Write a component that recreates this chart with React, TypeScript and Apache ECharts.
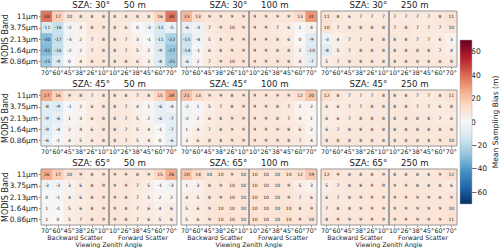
import React, { useEffect, useRef } from 'react';
import * as echarts from 'echarts';

const BANDS = ['11µm', '3.75µm', '2.13µm', '1.64µm', '0.86µm'];
const VZA_LABELS = ['70°', '60°', '45°', '38°', '26°', '10°', '10°', '26°', '38°', '45°', '60°', '70°'];
const SZA_LABELS = ['30°', '45°', '65°'];
const RES_LABELS = ['50 m', '100 m', '250 m'];
const COLORBAR_TICKS = [-60, -40, -20, 0, 20, 40, 60];

// rows: bands (11, 3.75, 2.13, 1.64, 0.86); cols: VZA backward 70..10, forward 10..70
const SZA30_50M = [
  [38, 17, 10, 8, 8, 8, 8, 8, 8, 8, 16, 38],
  [-11, -16, -2, 3, 8, 9, 8, 6, 0, -3, -11, -5],
  [-30, -17, -3, 2, 7, 8, 8, 7, 3, -1, -11, -22],
  [-31, -16, -2, 2, 7, 8, 8, 7, 5, 2, -9, -27],
  [-25, -9, 0, 4, 8, 9, 8, 8, 6, 3, -8, -25],
];
const SZA30_100M = [
  [23, 13, 9, 9, 9, 9, 9, 9, 9, 9, 13, 31],
  [-6, -3, 7, 9, 10, 9, 9, 9, 7, 6, 1, 4],
  [-15, -4, 5, 8, 9, 9, 9, 9, 8, 6, 0, -9],
  [-14, -1, 6, 8, 9, 9, 9, 9, 8, 8, 2, -10],
  [-6, 2, 7, 9, 10, 9, 9, 9, 9, 8, 4, -7],
];
const SZA30_250M = [
  [11, 8, 6, 7, 7, 7, 7, 7, 7, 7, 8, 11],
  [10, 7, 8, 8, 8, 8, 7, 8, 7, 7, 7, 10],
  [-3, 4, 7, 7, 8, 8, 8, 8, 7, 7, 6, 3],
  [-8, 5, 7, 8, 8, 8, 8, 8, 8, 8, 7, 4],
  [5, 7, 8, 8, 8, 8, 8, 8, 8, 8, 8, 8],
];
const SZA45_50M = [
  [27, 16, 9, 8, 7, 8, 8, 8, 7, 8, 15, 28],
  [-8, -9, -1, 2, 6, 8, 8, 7, 4, 1, -6, -4],
  [-9, -6, 1, 3, 6, 8, 8, 7, 5, 2, -6, -7],
  [-9, -4, 2, 4, 6, 8, 8, 7, 5, 4, -1, -7],
  [-6, -1, 4, 5, 6, 8, 8, 7, 5, 4, 0, -6],
];
const SZA45_100M = [
  [21, 13, 9, 9, 8, 9, 9, 9, 9, 9, 12, 20],
  [-2, 1, 5, 7, 8, 9, 9, 9, 8, 7, 2, 2],
  [-2, 2, 6, 8, 9, 9, 9, 9, 8, 7, 4, 1],
  [1, 4, 7, 8, 9, 9, 9, 9, 9, 8, 6, 2],
  [3, 6, 8, 8, 9, 9, 9, 9, 9, 8, 7, 4],
];
const SZA45_250M = [
  [12, 8, 7, 7, 7, 8, 8, 8, 7, 7, 8, 11],
  [6, 6, 7, 7, 8, 8, 8, 8, 7, 7, 6, 8],
  [6, 6, 7, 8, 8, 8, 8, 8, 8, 8, 7, 6],
  [6, 7, 8, 8, 8, 8, 8, 8, 8, 8, 8, 8],
  [8, 8, 8, 8, 8, 8, 8, 8, 8, 8, 9, 10],
];
const SZA65_50M = [
  [26, 17, 10, 9, 8, 9, 9, 9, 8, 9, 15, 26],
  [-3, -3, 3, 6, 8, 9, 9, 9, 7, 5, -1, -3],
  [0, -1, 4, 6, 8, 9, 9, 8, 7, 5, 2, 2],
  [1, -1, 5, 6, 8, 9, 9, 8, 7, 6, 4, 6],
  [1, 0, 5, 7, 8, 9, 9, 8, 7, 6, 5, 6],
];
const SZA65_100M = [
  [20, 14, 10, 10, 9, 10, 10, 10, 10, 10, 12, 19],
  [1, 3, 8, 9, 10, 10, 10, 10, 10, 9, 5, 3],
  [4, 5, 8, 9, 10, 10, 10, 10, 10, 9, 7, 6],
  [5, 6, 9, 10, 10, 10, 10, 10, 10, 10, 8, 9],
  [5, 6, 9, 10, 10, 10, 10, 10, 10, 10, 9, 10],
];
const SZA65_250M = [
  [12, 9, 8, 8, 8, 9, 8, 8, 8, 8, 9, 12],
  [5, 7, 8, 8, 9, 9, 9, 9, 8, 8, 8, 6],
  [6, 7, 8, 9, 9, 9, 9, 9, 9, 9, 8, 9],
  [7, 8, 8, 9, 9, 9, 9, 9, 9, 9, 9, 10],
  [8, 9, 9, 9, 9, 9, 9, 9, 9, 9, 9, 11],
];

const PANELS = [
  [SZA30_50M, SZA30_100M, SZA30_250M],
  [SZA45_50M, SZA45_100M, SZA45_250M],
  [SZA65_50M, SZA65_100M, SZA65_250M],
];

const RDBU_R = ['#053061', '#2166ac', '#4393c3', '#92c5de', '#d1e5f0', '#f7f7f7', '#fddbc7', '#f4a582', '#d6604d', '#b2182b', '#67001f'];

const FONT = 'DejaVu Sans';
const PANEL_LEFT = [41, 181, 321];
const PANEL_TOP = [11, 90, 169];
const PANEL_W = 136;
const PANEL_H = 56;
const CB = { left: 460, top: 40, width: 12, height: 164 };

export default function App() {
  const ref = useRef<HTMLDivElement>(null);
  useEffect(() => {
    if (!ref.current) return;
    document.body.style.margin = '0';
    const chart = echarts.init(ref.current, undefined, { renderer: 'svg' });
    const grids: any[] = [];
    const xAxes: any[] = [];
    const yAxes: any[] = [];
    const series: any[] = [];
    const graphics: any[] = [];
    const xKeys = VZA_LABELS.map((_, i) => 'c' + i);

    for (let r = 0; r < 3; r++) {
      for (let c = 0; c < 3; c++) {
        const gi = r * 3 + c;
        const L = PANEL_LEFT[c];
        const T = PANEL_TOP[r];
        grids.push({ left: L, top: T, width: PANEL_W, height: PANEL_H, containLabel: false });
        xAxes.push({
          gridIndex: gi,
          type: 'category',
          data: xKeys,
          axisLine: { show: false },
          axisTick: { show: true, length: 2, alignWithLabel: true, lineStyle: { color: '#333', width: 0.6 } },
          axisLabel: {
            show: true,
            interval: 0,
            margin: 2.5,
            fontSize: 6.3,
            color: '#222',
            fontFamily: FONT,
            formatter: (_v: string, idx: number) => VZA_LABELS[idx],
          },
          splitLine: { show: false },
        });
        yAxes.push({
          gridIndex: gi,
          type: 'category',
          data: BANDS,
          inverse: true,
          axisLine: { show: false },
          axisTick: { show: c === 0, length: 2, alignWithLabel: true, lineStyle: { color: '#333', width: 0.6 } },
          axisLabel: { show: c === 0, margin: 3, fontSize: 7.4, color: '#222', fontFamily: FONT },
          splitLine: { show: false },
        });
        const data: any[] = [];
        PANELS[r][c].forEach((row, yi) => row.forEach((v, xi) => data.push([xi, yi, v])));
        series.push({
          type: 'heatmap',
          xAxisIndex: gi,
          yAxisIndex: gi,
          data,
          itemStyle: { borderWidth: 0 },
          label: {
            show: true,
            fontSize: 4.5,
            color: '#222',
            fontFamily: FONT,
            formatter: (p: any) => String(p.value[2]),
          },
          emphasis: { disabled: true },
        });
        graphics.push({
          type: 'rect',
          shape: { x: L, y: T, width: PANEL_W, height: PANEL_H },
          style: { fill: 'none', stroke: '#999', lineWidth: 1 },
          z: 100,
        });
        graphics.push({
          type: 'line',
          shape: { x1: L + PANEL_W / 2, y1: T, x2: L + PANEL_W / 2, y2: T + PANEL_H },
          style: { stroke: '#777', lineWidth: 1.3 },
          z: 100,
        });
        graphics.push({
          type: 'text',
          x: L + PANEL_W / 2,
          y: T - 6,
          style: {
            text: 'SZA: ' + SZA_LABELS[r] + '     ' + RES_LABELS[c],
            align: 'center',
            verticalAlign: 'middle',
            fontSize: 8.6,
            fontFamily: FONT,
            fill: '#222',
          },
        });
        if (c === 0) {
          graphics.push({
            type: 'text',
            x: 5,
            y: T + PANEL_H / 2,
            rotation: Math.PI / 2,
            style: {
              text: 'MODIS Band',
              align: 'center',
              verticalAlign: 'middle',
              fontSize: 8,
              fontFamily: FONT,
              fill: '#222',
            },
          });
        }
        if (r === 2) {
          graphics.push({
            type: 'text',
            x: L + PANEL_W / 4,
            y: T + PANEL_H + 12,
            style: { text: 'Backward Scatter', align: 'center', verticalAlign: 'middle', fontSize: 6.3, fontFamily: FONT, fill: '#222' },
          });
          graphics.push({
            type: 'text',
            x: L + (PANEL_W * 3) / 4,
            y: T + PANEL_H + 12,
            style: { text: 'Forward Scatter', align: 'center', verticalAlign: 'middle', fontSize: 6.3, fontFamily: FONT, fill: '#222' },
          });
          graphics.push({
            type: 'text',
            x: L + PANEL_W / 2,
            y: T + PANEL_H + 19,
            style: { text: 'Viewing Zenith Angle', align: 'center', verticalAlign: 'middle', fontSize: 6.3, fontFamily: FONT, fill: '#222' },
          });
        }
      }
    }

    const cbIndex = 9;
    grids.push({ left: CB.left, top: CB.top, width: CB.width, height: CB.height });
    xAxes.push({ gridIndex: cbIndex, type: 'value', show: false, min: 0, max: 1 });
    yAxes.push({
      gridIndex: cbIndex,
      type: 'value',
      position: 'right',
      min: -70,
      max: 70,
      axisLine: { show: false },
      splitLine: { show: false },
      axisTick: { show: true, length: 2.5, customValues: COLORBAR_TICKS, lineStyle: { color: '#333', width: 0.6 } },
      axisLabel: {
        show: true,
        customValues: COLORBAR_TICKS,
        margin: 3,
        fontSize: 7.6,
        color: '#222',
        fontFamily: FONT,
        formatter: (v: number) => String(v).replace('-', '\u2212'),
      },
      name: 'Mean Sampling Bias (m)',
      nameLocation: 'middle',
      nameRotate: 90,
      nameGap: 22,
      nameTextStyle: { fontSize: 7.6, color: '#222', fontFamily: FONT },
    });
    graphics.push({
      type: 'rect',
      shape: { x: CB.left, y: CB.top, width: CB.width, height: CB.height },
      style: {
        fill: new echarts.graphic.LinearGradient(
          0, 0, 0, 1,
          RDBU_R.slice().reverse().map((col, i) => ({ offset: i / (RDBU_R.length - 1), color: col }))
        ),
        stroke: '#aaa',
        lineWidth: 0.5,
      },
      z: 50,
    });

    chart.setOption({
      animation: false,
      backgroundColor: '#fff',
      textStyle: { fontFamily: FONT },
      grid: grids,
      xAxis: xAxes,
      yAxis: yAxes,
      visualMap: {
        type: 'continuous',
        show: false,
        min: -70,
        max: 70,
        dimension: 2,
        seriesIndex: [0, 1, 2, 3, 4, 5, 6, 7, 8],
        inRange: { color: RDBU_R },
      },
      series,
      graphic: graphics,
    });
    return () => chart.dispose();
  }, []);
  return <div ref={ref} style={{ width: 500, height: 248 }} />;
}
